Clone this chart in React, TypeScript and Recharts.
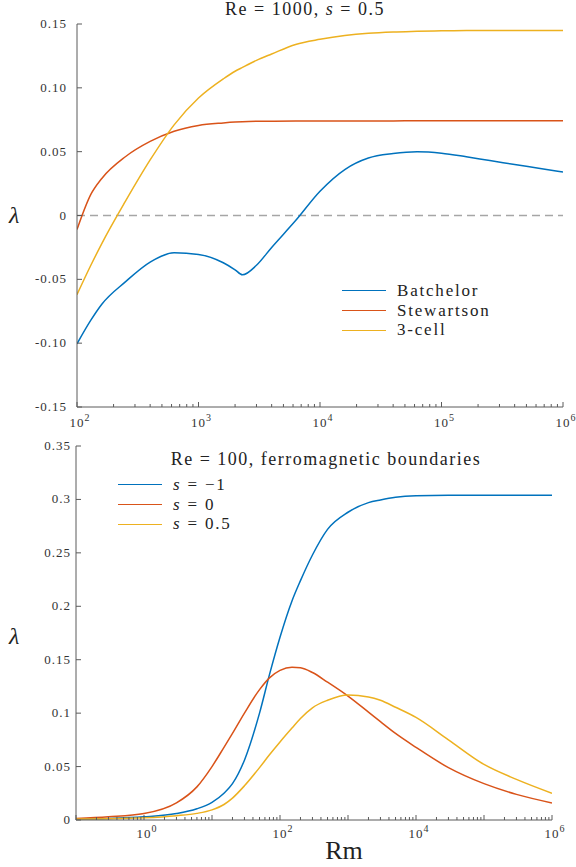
import React from "react"
import { LineChart, Line, XAxis, YAxis, ReferenceLine } from "recharts"

const SERIF = '"Liberation Serif", serif'
const AXIS = "#5a5a5a"
const INK = "#333"
const COLORS = ["#0072BD", "#D95319", "#EDB120"]

// top panel: Re = 1000, s = 0.5
const rmTop = [100, 130, 160, 250, 400, 630, 1000, 1600, 2000, 2300, 3000, 4000, 6300, 10000, 16000, 25000, 40000, 63000, 100000, 160000, 250000, 400000, 630000, 1000000]
const batchelor = [-0.1005, -0.082, -0.0695, -0.052, -0.0365, -0.0292, -0.0305, -0.037, -0.0425, -0.0465, -0.039, -0.025, -0.004, 0.019, 0.036, 0.045, 0.0485, 0.0499, 0.0488, 0.046, 0.043, 0.04, 0.037, 0.034]
const stewartson = [-0.011, 0.0165, 0.029, 0.046, 0.058, 0.066, 0.0705, 0.0725, 0.0732, 0.0735, 0.0738, 0.0739, 0.074, 0.074, 0.0741, 0.0741, 0.0741, 0.0742, 0.0742, 0.0742, 0.0742, 0.0742, 0.0742, 0.0742]
const threeCell = [-0.062, -0.039, -0.022, 0.011, 0.0435, 0.071, 0.092, 0.107, 0.113, 0.116, 0.1215, 0.1265, 0.134, 0.138, 0.141, 0.1428, 0.1438, 0.1443, 0.1447, 0.145, 0.145, 0.145, 0.145, 0.145]
const topNames = ["Batchelor", "Stewartson", "3-cell"]
const topYTicks = [-0.15, -0.1, -0.05, 0, 0.05, 0.1, 0.15]

// bottom panel: Re = 100, ferromagnetic boundaries
const rmBot = [0.1, 0.3, 1, 3, 6, 10, 15, 20, 30, 50, 70, 100, 150, 200, 300, 500, 1000, 2000, 3000, 5000, 10000, 30000, 100000, 300000, 1000000]
const sMinus1 = [0.001, 0.0015, 0.003, 0.006, 0.0105, 0.0165, 0.025, 0.034, 0.056, 0.1, 0.136, 0.171, 0.205, 0.224, 0.248, 0.272, 0.288, 0.297, 0.2995, 0.302, 0.3035, 0.304, 0.304, 0.304, 0.304]
const sZero = [0.0015, 0.003, 0.006, 0.016, 0.031, 0.05, 0.068, 0.081, 0.1, 0.122, 0.133, 0.14, 0.143, 0.1425, 0.138, 0.129, 0.116, 0.101, 0.092, 0.081, 0.068, 0.049, 0.034, 0.024, 0.016]
const sHalf = [0.001, 0.0012, 0.002, 0.004, 0.0062, 0.0095, 0.0145, 0.0205, 0.032, 0.049, 0.061, 0.073, 0.086, 0.095, 0.105, 0.112, 0.117, 0.1152, 0.112, 0.1055, 0.096, 0.075, 0.052, 0.038, 0.025]
const botS = ["\u22121", "0", "0.5"]
const botYTicks = [0, 0.05, 0.1, 0.15, 0.2, 0.25, 0.3, 0.35]

const topData = rmTop.map((rm, i) => ({ rm, a: batchelor[i], b: stewartson[i], c: threeCell[i] }))
const botData = rmBot.map((rm, i) => ({ rm, a: sMinus1[i], b: sZero[i], c: sHalf[i] }))

// major + minor log ticks
const logTicks = (lo: number, hi: number) => {
  const out: number[] = []
  for (let d = lo; d < hi; d++) {
    for (let k = 1; k < 10; k++) out.push(k * Math.pow(10, d))
  }
  out.push(Math.pow(10, hi))
  return out
}
const topXTicks = logTicks(2, 6)
const botXTicks = logTicks(-1, 6)

function XTick(props: any) {
  const { x, y, payload, side, labels, dy } = props
  const lg = Math.log10(payload.value)
  const p = Math.round(lg)
  const major = Math.abs(lg - p) < 1e-6
  const dir = side === "bottom" ? -1 : 1
  const show = side === "bottom" && major && labels.includes(p)
  return (
    <g>
      <line x1={x} y1={y} x2={x} y2={y + dir * (major ? 5 : 3)} stroke={AXIS} />
      {show && (
        <text x={x + 3} y={y + dy} textAnchor="middle" fontSize={13} letterSpacing={1} fill={INK} fontFamily={SERIF}>
          10<tspan dy={-6} fontSize={10}>{p}</tspan>
        </text>
      )}
    </g>
  )
}

function YTick(props: any) {
  const { x, y, payload, side, fmt, gap } = props
  const dir = side === "left" ? 1 : -1
  return (
    <g>
      <line x1={x} y1={y} x2={x + dir * 5} y2={y} stroke={AXIS} />
      {side === "left" && (
        <text x={x - gap} y={y + 4} textAnchor="end" fontSize={13} letterSpacing={1} fill={INK} fontFamily={SERIF}>
          {fmt(payload.value)}
        </text>
      )}
    </g>
  )
}

const fmtTop = (v: number) => (v === 0 ? "0" : v.toFixed(2))
const fmtBot = (v: number) => (v === 0 ? "0" : String(v))

function LegendBox({ left, top, labels }: { left: number; top: number; labels: React.ReactNode[] }) {
  return (
    <div style={{ position: "absolute", left, top, fontSize: 17, letterSpacing: 1.8, color: "#222" }}>
      {labels.map((l, i) => (
        <div key={i} style={{ display: "flex", alignItems: "center", height: 19.7 }}>
          <span style={{ width: 44, height: 0, borderTop: `1.5px solid ${COLORS[i]}`, marginRight: 11 }} />
          <span style={{ lineHeight: "19.7px" }}>{l}</span>
        </div>
      ))}
    </div>
  )
}

function Panel({ data, top, height, margin, xDomain, xTicks, xLabels, xLabelDy, xHeight, yDomain, yTicks, fmt, yWidth, gap, zeroLine }: any) {
  return (
    <div style={{ position: "absolute", left: 0, top }}>
      <LineChart width={576} height={height} data={data} margin={margin}>
        <XAxis dataKey="rm" type="number" scale="log" domain={xDomain} allowDataOverflow ticks={xTicks} interval={0}
          tickLine={false} tickSize={0} tickMargin={0} height={xHeight} axisLine={{ stroke: AXIS }}
          tick={(p: any) => <XTick {...p} side="bottom" labels={xLabels} dy={xLabelDy} />} />
        <XAxis xAxisId="top" orientation="top" dataKey="rm" type="number" scale="log" domain={xDomain} allowDataOverflow
          ticks={xTicks} interval={0} tickLine={false} tickSize={0} tickMargin={0} height={0} axisLine={{ stroke: AXIS }}
          tick={(p: any) => <XTick {...p} side="top" />} />
        <YAxis type="number" domain={yDomain} allowDataOverflow ticks={yTicks} interval={0} tickLine={false} tickSize={0}
          tickMargin={0} width={yWidth} axisLine={{ stroke: AXIS }}
          tick={(p: any) => <YTick {...p} side="left" fmt={fmt} gap={gap} />} />
        <YAxis yAxisId="right" orientation="right" type="number" domain={yDomain} allowDataOverflow ticks={yTicks} interval={0}
          tickLine={false} tickSize={0} tickMargin={0} width={0} axisLine={{ stroke: AXIS }}
          tick={(p: any) => <YTick {...p} side="right" />} />
        {zeroLine && <ReferenceLine y={0} stroke="#a6a6a6" strokeWidth={1.3} strokeDasharray="8 5" />}
        {["a", "b", "c"].map((k, i) => (
          <Line key={k} dataKey={k} type="monotone" stroke={COLORS[i]} strokeWidth={1.5} dot={false} isAnimationActive={false} />
        ))}
      </LineChart>
    </div>
  )
}

export default function App() {
  return (
    <div style={{ position: "absolute", left: 0, top: 0, width: 576, height: 867, background: "#fff", fontFamily: SERIF, color: "#222" }}>
      <Panel data={topData} top={0} height={430} margin={{ top: 24, right: 13, left: 0, bottom: 0 }}
        xDomain={[100, 1000000]} xTicks={topXTicks} xLabels={[2, 3, 4, 5, 6]} xLabelDy={20} xHeight={23}
        yDomain={[-0.15, 0.15]} yTicks={topYTicks} fmt={fmtTop} yWidth={77} gap={10} zeroLine />
      <Panel data={botData} top={430} height={437} margin={{ top: 16, right: 24, left: 0, bottom: 0 }}
        xDomain={[0.1, 1000000]} xTicks={botXTicks} xLabels={[0, 2, 4, 6]} xLabelDy={18} xHeight={47}
        yDomain={[0, 0.35]} yTicks={botYTicks} fmt={fmtBot} yWidth={76} gap={5} />

      <div style={{ position: "absolute", left: 155, width: 300, top: 0, textAlign: "center", fontSize: 18, letterSpacing: 1.5, lineHeight: "18px" }}>
        Re = 1000,  <i>s</i> = 0.5
      </div>
      <div style={{ position: "absolute", left: 126, width: 400, top: 450, textAlign: "center", fontSize: 18, letterSpacing: 1.5, lineHeight: "18px" }}>
        Re = 100, ferromagnetic boundaries
      </div>
      <div style={{ position: "absolute", left: 9, top: 203, fontSize: 24, fontStyle: "italic", lineHeight: "24px" }}>λ</div>
      <div style={{ position: "absolute", left: 9, top: 624, fontSize: 24, fontStyle: "italic", lineHeight: "24px" }}>λ</div>
      <div style={{ position: "absolute", left: 294, width: 100, top: 838, textAlign: "center", fontSize: 26, lineHeight: "26px" }}>Rm</div>

      <LegendBox left={342} top={281} labels={topNames} />
      <LegendBox left={118} top={475} labels={botS.map((v) => <><i>s</i> = {v}</>)} />
    </div>
  )
}
